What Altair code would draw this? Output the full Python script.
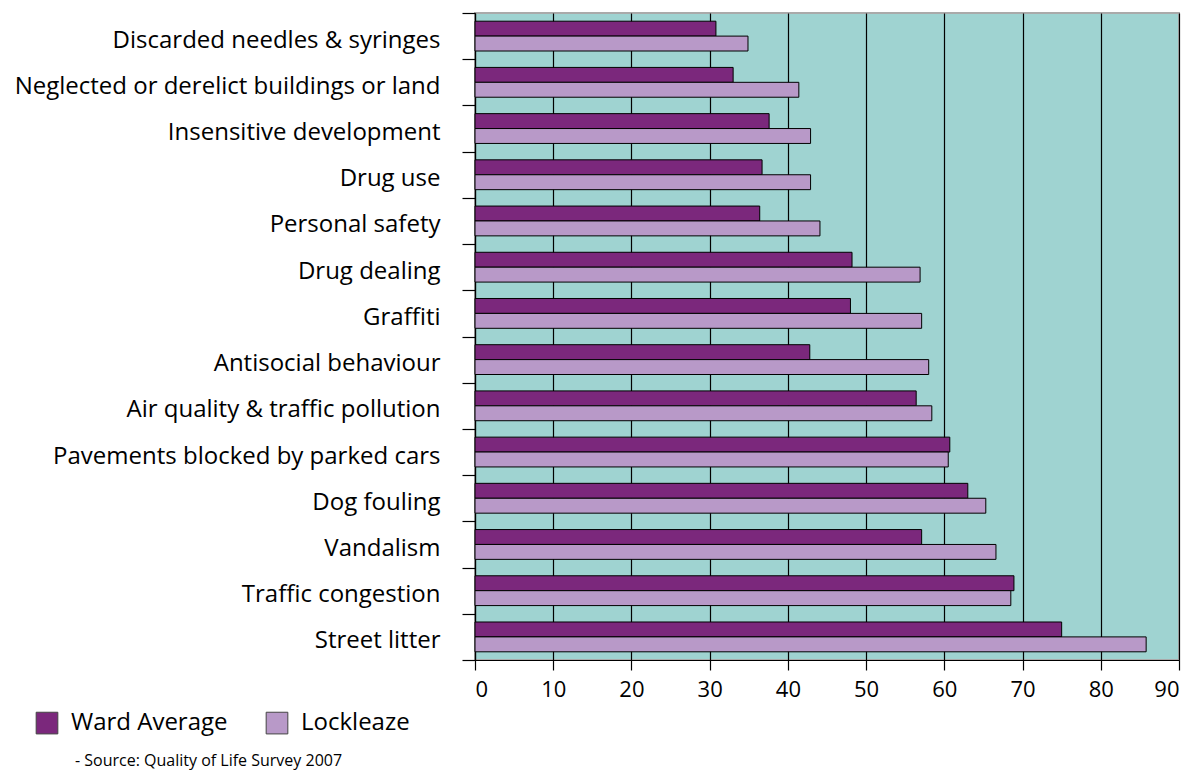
import altair as alt
import pandas as pd

# Survey issues, listed top to bottom
issues = [
    "Discarded needles & syringes",
    "Neglected or derelict buildings or land",
    "Insensitive development",
    "Drug use",
    "Personal safety",
    "Drug dealing",
    "Graffiti",
    "Antisocial behaviour",
    "Air quality & traffic pollution",
    "Pavements blocked by parked cars",
    "Dog fouling",
    "Vandalism",
    "Traffic congestion",
    "Street litter",
]

ward_average = [30.8, 33.0, 37.6, 36.7, 36.4, 48.2, 48.0, 42.8, 56.4, 60.7, 63.0, 57.1, 68.9, 75.0]
lockleaze = [34.9, 41.4, 42.9, 42.9, 44.1, 56.9, 57.1, 58.0, 58.4, 60.5, 65.3, 66.6, 68.5, 85.8]

series_names = ["Ward Average", "Lockleaze"]
series_colors = ["#7b287c", "#b899c8"]
x_ticks = [0, 10, 20, 30, 40, 50, 60, 70, 80, 90]
source_note = "- Source: Quality of Life Survey 2007"

rows = []
for i, issue in enumerate(issues):
    rows.append({"issue": issue, "series": series_names[0], "value": ward_average[i]})
    rows.append({"issue": issue, "series": series_names[1], "value": lockleaze[i]})
df = pd.DataFrame(rows)

FONT = "Open Sans"

bars = alt.Chart(df).mark_bar(stroke="black", strokeWidth=1).encode(
    x=alt.X(
        "value:Q",
        scale=alt.Scale(domain=[0, 90], nice=False),
        axis=alt.Axis(
            values=x_ticks,
            title=None,
            grid=True,
            gridColor="black",
            gridWidth=1.2,
            gridOpacity=1,
            domainColor="black",
            domainWidth=1.2,
            tickColor="black",
            tickSize=10,
            tickWidth=1.2,
            labelFontSize=22,
            labelFont=FONT,
            labelColor="black",
            labelPadding=9,
        ),
    ),
    y=alt.Y(
        "issue:N",
        sort=issues,
        scale=alt.Scale(paddingInner=0, paddingOuter=0),
        axis=alt.Axis(
            title=None,
            tickBand="extent",
            domainColor="black",
            domainWidth=1.2,
            tickColor="black",
            tickSize=13,
            tickWidth=1.2,
            labelFontSize=24,
            labelFont=FONT,
            labelColor="black",
            labelPadding=22,
            labelOffset=4,
            labelLimit=600,
        ),
    ),
    yOffset=alt.YOffset(
        "series:N",
        sort=series_names,
        scale=alt.Scale(paddingInner=0, paddingOuter=0.55),
    ),
    color=alt.Color(
        "series:N",
        sort=series_names,
        scale=alt.Scale(domain=series_names, range=series_colors),
        legend=alt.Legend(
            title=None,
            orient="none",
            direction="horizontal",
            legendX=-440,
            legendY=698,
            symbolType="square",
            symbolSize=470,
            symbolStrokeColor="#444444",
            symbolStrokeWidth=1,
            symbolOpacity=1,
            labelFontSize=24,
            labelFont=FONT,
            labelColor="black",
            labelOffset=12,
            columnPadding=36,
        ),
    ),
)

note = alt.Chart(pd.DataFrame({"t": [source_note]})).mark_text(
    align="left", baseline="alphabetic", fontSize=16, font=FONT, color="black"
).encode(x=alt.value(-400), y=alt.value(753), text="t:N")

chart = alt.layer(bars, note).properties(
    width=704,
    height=647,
    autosize=alt.AutoSizeParams(type="none"),
    padding={"left": 475, "top": 13, "right": 17, "bottom": 111},
    background="white",
).configure_view(
    fill="#9fd3d1",
    stroke="#aaaaaa",
    strokeWidth=2,
)

chart.save("out.html", embed_options={"renderer": "svg", "actions": False})
